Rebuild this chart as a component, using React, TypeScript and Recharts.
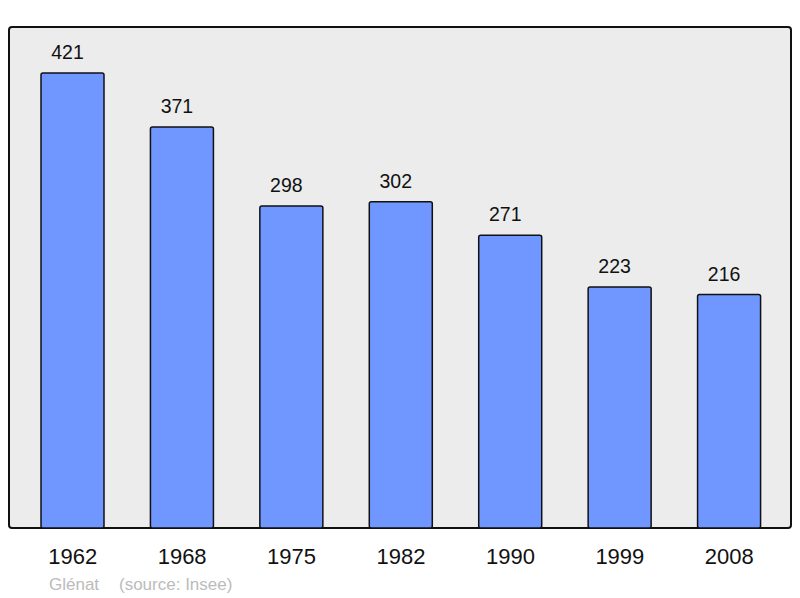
import React from 'react'
import { Bar, BarChart, CartesianGrid, LabelList, XAxis, YAxis } from 'recharts'

const years = ['1962', '1968', '1975', '1982', '1990', '1999', '2008']
const population = [421, 371, 298, 302, 271, 223, 216]
const sourceName = 'Glénat'
const sourceNote = '(source: Insee)'

const data = years.map((year, i) => ({ year, value: population[i] }))

const FONT = '"Liberation Sans", Arial, sans-serif'

// plot box outline, drawn on top of the grid fill
const Frame = () => (
    <g>
        <rect x={9} y={27} width={782} height={501} rx={3} ry={3} fill="none" stroke="#111" strokeWidth={2} />
        <text x={49} y={590} fontSize={17} fill="#bbb" fontFamily={FONT}>{sourceName}</text>
        <text x={119} y={590} fontSize={17} fill="#bbb" fontFamily={FONT}>{sourceNote}</text>
    </g>
)

const App = () => {
    return (
        <div style={{ position: 'absolute', left: 0, top: 0 }}>
            <BarChart
                width={800}
                height={598}
                data={data}
                margin={{ top: 27, right: 9, left: 9, bottom: 0 }}
                barCategoryGap={0}
            >
                <CartesianGrid fill="#ececec" horizontal={false} vertical={false} />
                <XAxis
                    dataKey="year"
                    height={70}
                    axisLine={false}
                    tickLine={false}
                    tickMargin={14}
                    padding={{ left: 9, right: 7 }}
                    tick={{ fontSize: 22, fill: '#111', fontFamily: FONT }}
                />
                <YAxis hide domain={[0, 463.6]} />
                <Bar
                    dataKey="value"
                    fill="#7097ff"
                    stroke="#111"
                    strokeWidth={1.5}
                    barSize={63}
                    radius={2}
                    isAnimationActive={false}
                >
                    <LabelList
                        dataKey="value"
                        position="top"
                        offset={14}
                        dx={-5}
                        fontSize={19.5}
                        fill="#111"
                        fontFamily={FONT}
                    />
                </Bar>
                <Frame />
            </BarChart>
        </div>
    )
}

export default App
